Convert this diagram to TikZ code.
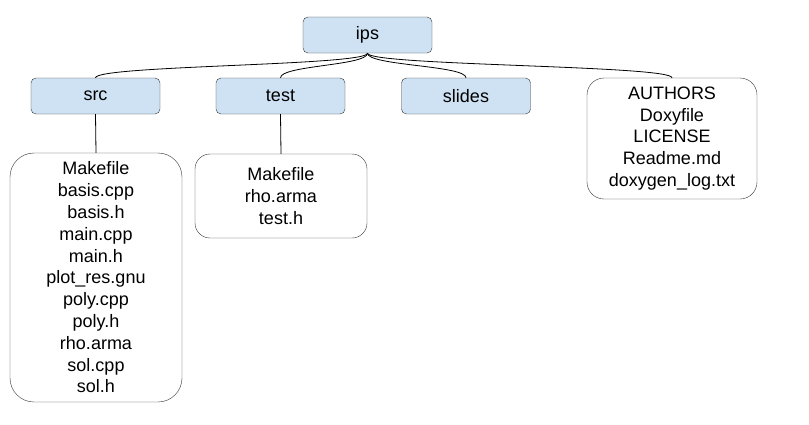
\documentclass[tikz,border=0pt]{standalone}
\usepackage{fontspec}
\setmainfont{Liberation Sans}
\usepackage{tikz}
\usetikzlibrary{positioning}
\definecolor{dirblue}{HTML}{CFE2F3}
\definecolor{edgegray}{HTML}{333333}
\begin{document}
\begin{tikzpicture}[x=1pt,y=-1pt,
  dir/.style={draw=edgegray,fill=dirblue,rounded corners=5pt,minimum width=129pt,minimum height=36pt,inner sep=0pt,font=\fontsize{18}{21.8}\selectfont},
  files/.style={draw=edgegray,fill=white,minimum width=172pt,inner sep=0pt,align=center,font=\fontsize{18}{21.8}\selectfont},
  link/.style={black,line width=0.8pt}]
\useasboundingbox (0,0) rectangle (809,424);
\node[dir] (ips) at (367.5,35) {ips};
\foreach \name/\x in {src/95.5,test/280.5,slides/466}{ \node[dir] (\name) at (\x,96) {\name}; }
\node[files,rounded corners=17pt,minimum width=170pt,minimum height=121pt] (top) at (672,138.5) {AUTHORS\\Doxyfile\\LICENSE\\Readme.md\\doxygen\_log.txt};
\node[files,rounded corners=24pt,minimum height=249pt] (srcfiles) at (96,277.5) {Makefile\\basis.cpp\\basis.h\\main.cpp\\main.h\\plot\_res.gnu\\poly.cpp\\poly.h\\rho.arma\\sol.cpp\\sol.h};
\node[files,rounded corners=15pt,minimum height=84pt] (testfiles) at (281,196) {Makefile\\rho.arma\\test.h};
\foreach \child in {src,test,slides,top}{ \draw[link] (ips.south) .. controls +(0,12.5) and +(0,-12.5) .. (\child.north); }
\draw[link] (src.south) -- (srcfiles.north);
\draw[link] (test.south) -- (testfiles.north);
\end{tikzpicture}
\end{document}
